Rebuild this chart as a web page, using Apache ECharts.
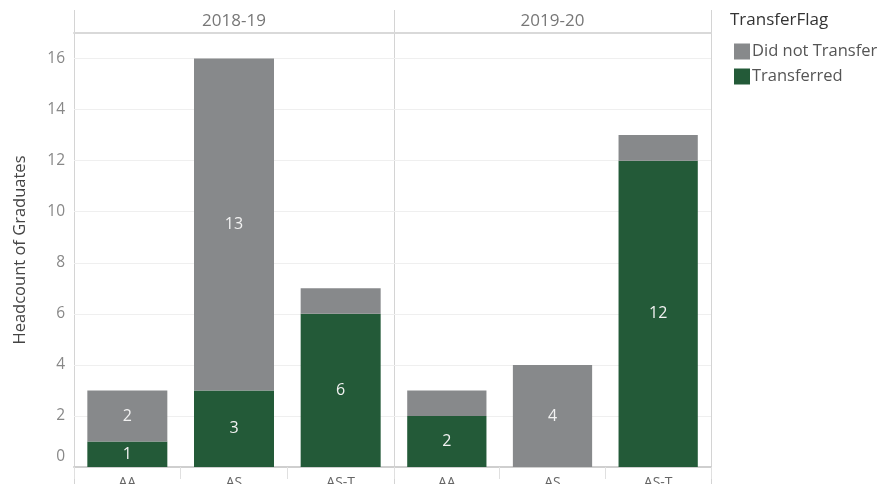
<!DOCTYPE html>
<html><head><meta charset="utf-8">
<script src="https://cdn.jsdelivr.net/npm/echarts@6/dist/echarts.min.js"></script>
<style>html,body{margin:0;padding:0;background:#fff}#c{width:895px;height:484px}</style>
</head><body><div id="c"></div>
<script>
const categories = ['AA', 'AS', 'AS-T'];
const years = ['2018-19', '2019-20'];
const transferred = [[1, 3, 6], [2, 0, 12]];
const notTransferred = [[2, 13, 1], [1, 4, 1]];
const transferredLabelShown = [[true, true, true], [true, false, true]];
const notTransferredLabelShown = [[true, true, false], [false, true, false]];
const yTicks = [0, 2, 4, 6, 8, 10, 12, 14, 16];
const seriesNames = ['Did not Transfer', 'Transferred'];

const FONT = 'Open Sans';
const GREEN = '#235a38';
const GRAY = '#87898b';

const chart = echarts.init(document.getElementById('c'), null, {renderer: 'canvas'});
const panels = [{left: 74, width: 320}, {left: 394, width: 317}];

const grids = panels.map(p => ({left: p.left, width: p.width, top: 33, bottom: 17, containLabel: false, outerBoundsMode: 'none'}));
const xAxes = [];
const yAxes = [];
const series = [];
panels.forEach((p, i) => {
  xAxes.push({
    type: 'category', gridIndex: i, data: categories, position: 'bottom',
    axisLine: {show: true, lineStyle: {color: '#cfcfcf', width: 2}},
    axisTick: {show: true, length: 12, lineStyle: {color: '#e0e0e0'}},
    axisLabel: {color: '#666', fontFamily: FONT, fontSize: 14, margin: 9}
  });
  xAxes.push({
    type: 'category', gridIndex: i, data: [years[i]], position: 'top',
    axisLine: {show: true, lineStyle: {color: '#d9d9d9', width: 2}},
    axisTick: {show: false},
    axisLabel: {color: '#777', fontFamily: FONT, fontSize: 17, margin: 3}
  });
  yAxes.push({
    type: 'value', gridIndex: i, min: 0, max: 17, interval: 2,
    name: i === 0 ? 'Headcount of Graduates' : '',
    nameLocation: 'middle', nameGap: 45, nameRotate: 90,
    nameTextStyle: {color: '#444', fontFamily: FONT, fontSize: 16.5},
    axisLine: {show: false}, axisTick: {show: false},
    splitLine: {lineStyle: {color: '#efefef', width: 1}},
    axisLabel: {
      show: i === 0, color: '#888', fontFamily: FONT, fontSize: 15.5, margin: 9,
      formatter: v => (yTicks.indexOf(v) < 0 ? '' : (v === 0 ? '{z|0}' : String(v))),
      rich: {z: {color: '#888', fontFamily: FONT, fontSize: 15.5, padding: [0, 0, 20, 0]}}
    }
  });
  const lbl = {show: true, position: 'inside', color: '#f2f2f2', fontFamily: FONT, fontSize: 16};
  series.push({
    name: seriesNames[1], type: 'bar', stack: 's' + i, xAxisIndex: i * 2, yAxisIndex: i,
    barWidth: '75%', itemStyle: {color: GREEN},
    data: transferred[i].map((v, j) => ({value: v, label: {...lbl, show: transferredLabelShown[i][j]}}))
  });
  series.push({
    name: seriesNames[0], type: 'bar', stack: 's' + i, xAxisIndex: i * 2, yAxisIndex: i,
    barWidth: '75%', itemStyle: {color: GRAY},
    data: notTransferred[i].map((v, j) => ({value: v, label: {...lbl, show: notTransferredLabelShown[i][j]}}))
  });
});

const vline = x => ({type: 'line', shape: {x1: x, y1: 10, x2: x, y2: 484}, style: {stroke: '#d4d4d4', lineWidth: 1}, silent: true});

chart.setOption({
  animation: false,
  textStyle: {fontFamily: FONT},
  grid: grids,
  xAxis: xAxes,
  yAxis: yAxes,
  series: series,
  legend: {
    data: seriesNames, orient: 'vertical', left: 729, top: 38,
    icon: 'rect', itemWidth: 16, itemHeight: 16, itemGap: 8,
    textStyle: {color: '#555', fontFamily: FONT, fontSize: 16.5, padding: [0, 0, 0, -3]}
  },
  title: {
    text: 'TransferFlag', left: 725, top: 7,
    textStyle: {color: '#333', fontFamily: FONT, fontSize: 17, fontWeight: 'normal'}
  },
  graphic: [vline(74.5), vline(394.5), vline(711.5)]
});
</script></body></html>
